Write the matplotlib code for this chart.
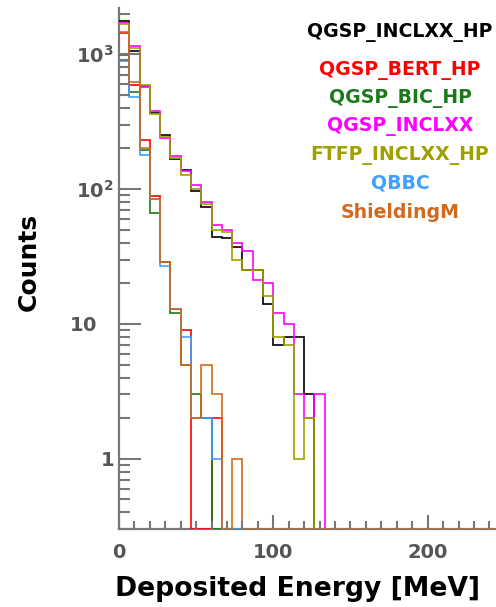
import numpy as np
import matplotlib
matplotlib.use("Agg")
import matplotlib.pyplot as plt
from matplotlib.ticker import FixedLocator, NullFormatter, LogLocator, MultipleLocator
import matplotlib.transforms as mtransforms

# ---- data (counts per 6.67 MeV bin, starting at 0 MeV) ----
bin_width = 20.0 / 3.0
n_bins = 37

qgsp_inclxx_hp = [1774, 1062, 580, 365, 250, 168, 139, 97, 74, 44, 43, 37, 25, 25, 14, 7, 8, 8, 3, 0]
qgsp_bert_hp   = [1430, 591, 233, 89, 29, 13, 9, 0, 0, 2, 0]
qgsp_bic_hp    = [986, 521, 196, 67, 29, 12, 5, 3, 2, 0]
qgsp_inclxx    = [1705, 1157, 568, 379, 238, 175, 135, 107, 80, 54, 50, 40, 35, 21, 20, 12, 10, 3, 2, 3, 0]
ftfp_inclxx_hp = [1667, 1113, 590, 360, 245, 170, 128, 100, 77, 50, 48, 30, 25, 25, 16, 8, 7, 1, 2, 0]
qbbc           = [895, 484, 178, 84, 27, 13, 8, 2, 2, 1, 0]
shieldingm     = [1450, 625, 202, 84, 29, 13, 5, 2, 5, 3, 0, 1, 0]

names  = ["QGSP_INCLXX_HP", "QGSP_BERT_HP", "QGSP_BIC_HP", "QGSP_INCLXX",
          "FTFP_INCLXX_HP", "QBBC", "ShieldingM"]
series = [qgsp_inclxx_hp, qgsp_bert_hp, qgsp_bic_hp, qgsp_inclxx,
          ftfp_inclxx_hp, qbbc, shieldingm]
colors = ["#000000", "#ff0000", "#1a7a1a", "#ff00ff", "#a0a000", "#3fa0ff", "#d2691e"]

x_ticks = [0, 100, 200]
y_ticks = [1, 10, 100, 1000]
y_tick_labels = [r"$\mathbf{1}$", r"$\mathbf{10}$", r"$\mathbf{10^{2}}$", r"$\mathbf{10^{3}}$"]

plt.rcParams["font.family"] = ["DejaVu Sans"]
plt.rcParams["mathtext.fontset"] = "dejavusans"

fig = plt.figure(figsize=(4.96, 6.07), dpi=100)
ax = fig.add_axes([119/496, 1-529.3/607, (496-119)/496, (529.3-8)/607])

ymin, ymax = 0.3, 2200
edges = np.arange(n_bins + 1) * bin_width
for vals, col in zip(series, colors):
    v = np.zeros(n_bins)
    v[:len(vals)] = vals
    v = np.clip(v, ymin, None)
    ax.stairs(v, edges, color=col, lw=1.2, baseline=None)

ax.set_yscale("log")
ax.set_xlim(0, 244.3)
ax.set_ylim(ymin, ymax)

for s in ["top", "right"]:
    ax.spines[s].set_visible(False)
for s in ["left", "bottom"]:
    ax.spines[s].set_color("#777777")
    ax.spines[s].set_linewidth(1.6)
    ax.spines[s].set_zorder(0)

ax.yaxis.set_major_locator(FixedLocator(y_ticks))
ax.yaxis.set_major_formatter(NullFormatter())
ax.yaxis.set_minor_locator(LogLocator(base=10, subs=np.arange(2, 10)))
ax.yaxis.set_minor_formatter(NullFormatter())
ax.xaxis.set_major_locator(FixedLocator(x_ticks))
ax.xaxis.set_minor_locator(MultipleLocator(10))

ax.tick_params(axis="y", which="major", direction="in", length=16, width=1.5, color="#777777")
ax.tick_params(axis="y", which="minor", direction="in", length=8, width=1.5, color="#777777")
ax.tick_params(axis="x", which="major", direction="in", length=10, width=1.5,
               color="#777777", labelcolor="#555555", labelsize=14, pad=10)
ax.tick_params(axis="x", which="minor", direction="in", length=5.5, width=1.5, color="#777777")
for lab in ax.get_xticklabels():
    lab.set_fontweight("bold")

# y tick labels (ROOT-like placement)
trans = mtransforms.blended_transform_factory(fig.transFigure, ax.transData)
label_right = [114, 97, 114, 114]
for yv, txt, xr in zip(y_ticks, y_tick_labels, label_right):
    ax.text(xr/496, yv, txt, transform=trans, ha="right", va="center_baseline",
            fontsize=14, color="#555555", clip_on=False)

fig.text(297.5/496, 1-596/607, "Deposited Energy [MeV]", ha="center", va="baseline",
         fontsize=19.2, fontweight="bold", color="black")
fig.text(29/496, 1-262/607, "Counts", ha="center", va="center", rotation=90,
         fontsize=18, fontweight="bold", color="black")

legend_y = [32, 70, 98, 127, 155, 183, 212]
for name, col, yy in zip(names, colors, legend_y):
    fig.text(400/496, 1-yy/607, name, ha="center", va="center", fontsize=13.6,
             fontweight="bold", color=col)

fig.savefig("out.png", dpi=100)
